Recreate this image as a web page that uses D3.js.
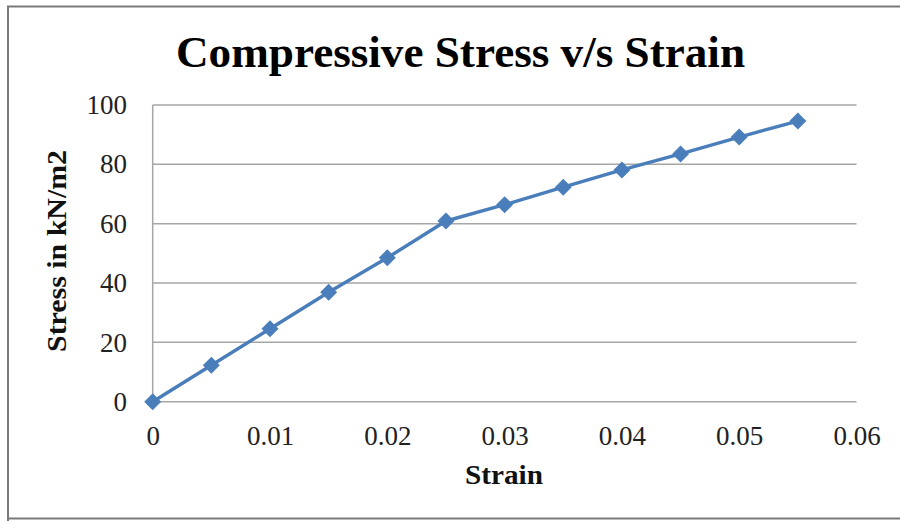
<!DOCTYPE html>
<html>
<head>
<meta charset="utf-8">
<script src="https://cdn.jsdelivr.net/npm/d3@7"></script>
<style>
  html, body { margin: 0; padding: 0; background: #fff; }
  svg { display: block; }
</style>
</head>
<body>
<svg id="chart" width="900" height="521"></svg>
<script>
// Strain values (x) and compressive stress in kN/m2 (y)
const strain = [0, 0.005, 0.01, 0.015, 0.02, 0.025, 0.03, 0.035, 0.04, 0.045, 0.05, 0.055];
const stress = [0, 12.3, 24.6, 36.9, 48.5, 60.9, 66.4, 72.3, 78.1, 83.5, 89.2, 94.6];
const xTicks = [0, 0.01, 0.02, 0.03, 0.04, 0.05, 0.06];
const yTicks = [0, 20, 40, 60, 80, 100];

(function () {
  const svg = d3.select("#chart");
  const W = 900, H = 521;
  const serif = "'Liberation Serif', 'Times New Roman', serif";

  // outer frame
  svg.append("rect").attr("x", 0).attr("y", 0).attr("width", W).attr("height", H).attr("fill", "#fff");
  svg.append("path")
    .attr("d", `M8,${H + 5} L8,6.5 L${W + 5},6.5`)
    .attr("fill", "none").attr("stroke", "#7a7a7a").attr("stroke-width", 2);
  svg.append("line")
    .attr("x1", 8).attr("x2", W + 5).attr("y1", 518.5).attr("y2", 518.5)
    .attr("stroke", "#7a7a7a").attr("stroke-width", 2);

  const pl = 152.7, pr = 856.5, pt = 105, pb = 401.7;
  const x = d3.scaleLinear().domain([0, 0.06]).range([pl, pr]);
  const y = d3.scaleLinear().domain([0, 100]).range([pb, pt]);

  // horizontal grid lines
  svg.append("g").selectAll("line").data(yTicks).join("line")
    .attr("x1", pl).attr("x2", pr)
    .attr("y1", d => y(d)).attr("y2", d => y(d))
    .attr("stroke", "#a6a6a6").attr("stroke-width", 1.5);

  // vertical axis line
  svg.append("line")
    .attr("x1", pl).attr("x2", pl).attr("y1", pt).attr("y2", pb)
    .attr("stroke", "#a6a6a6").attr("stroke-width", 1.5);

  // y axis tick labels
  const yAxis = d3.axisLeft(y).tickValues(yTicks).tickSize(0).tickPadding(0).tickFormat(d3.format("d"));
  const gy = svg.append("g").attr("transform", `translate(127,0)`).call(yAxis);
  gy.select(".domain").remove();
  gy.selectAll("text").attr("font-family", serif).attr("font-size", 27).attr("fill", "#222");

  // x axis tick labels
  const xAxis = d3.axisBottom(x).tickValues(xTicks).tickSize(0).tickPadding(0)
    .tickFormat(d => d === 0 ? "0" : d3.format(".2f")(d));
  const gx = svg.append("g").attr("transform", `translate(0,445)`).call(xAxis);
  gx.select(".domain").remove();
  gx.selectAll("text").attr("dy", 0).attr("font-family", serif).attr("font-size", 27).attr("fill", "#222");

  // title
  svg.append("text")
    .attr("x", 460.5).attr("y", 67).attr("text-anchor", "middle")
    .attr("font-family", serif).attr("font-weight", "bold").attr("font-size", 44)
    .attr("textLength", 569).attr("lengthAdjust", "spacingAndGlyphs")
    .attr("fill", "#000").text("Compressive Stress v/s Strain");

  // axis titles
  svg.append("text")
    .attr("x", 504).attr("y", 484).attr("text-anchor", "middle")
    .attr("font-family", serif).attr("font-weight", "bold").attr("font-size", 28)
    .attr("textLength", 78).attr("lengthAdjust", "spacingAndGlyphs")
    .attr("fill", "#111").text("Strain");
  svg.append("text")
    .attr("transform", `translate(66,251) rotate(-90)`)
    .attr("text-anchor", "middle")
    .attr("font-family", serif).attr("font-weight", "bold").attr("font-size", 28)
    .attr("textLength", 202).attr("lengthAdjust", "spacingAndGlyphs")
    .attr("fill", "#111").text("Stress in kN/m2");

  // series line and markers
  const pts = strain.map((s, i) => [s, stress[i]]);
  const blue = "#4a7ebb";
  svg.append("path")
    .datum(pts)
    .attr("d", d3.line().x(d => x(d[0])).y(d => y(d[1])))
    .attr("fill", "none").attr("stroke", blue).attr("stroke-width", 3.4)
    .attr("stroke-linejoin", "round");

  svg.append("g").selectAll("path").data(pts).join("path")
    .attr("transform", d => `translate(${x(d[0])},${y(d[1])}) rotate(45)`)
    .attr("d", "M-5.5,-5.5 L5.5,-5.5 L5.5,5.5 L-5.5,5.5 Z")
    .attr("fill", blue).attr("stroke", blue).attr("stroke-width", 1);
})();
</script>
</body>
</html>
